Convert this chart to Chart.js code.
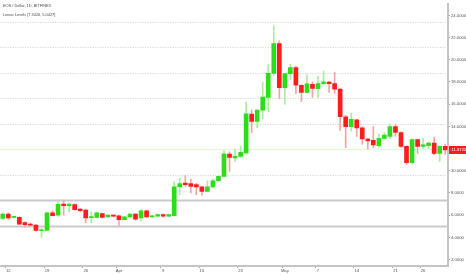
<!DOCTYPE html>
<html><head><meta charset="utf-8">
<script src="https://cdn.jsdelivr.net/npm/chart.js@4.4.1/dist/chart.umd.min.js"></script>
<style>html,body{margin:0;padding:0;background:#fff;overflow:hidden}#wrap{width:466px;height:275px;position:relative}</style>
</head><body><div id="wrap"><canvas id="c" width="466" height="275"></canvas></div>
<script>
const dates = ['2018-03-11','2018-03-12','2018-03-13','2018-03-14','2018-03-15','2018-03-16','2018-03-17','2018-03-18','2018-03-19','2018-03-20',
'2018-03-21','2018-03-22','2018-03-23','2018-03-24','2018-03-25','2018-03-26','2018-03-27','2018-03-28','2018-03-29','2018-03-30','2018-03-31',
'2018-04-01','2018-04-02','2018-04-03','2018-04-04','2018-04-05','2018-04-06','2018-04-07','2018-04-08','2018-04-09','2018-04-10',
'2018-04-11','2018-04-12','2018-04-13','2018-04-14','2018-04-15','2018-04-16','2018-04-17','2018-04-18','2018-04-19','2018-04-20',
'2018-04-21','2018-04-22','2018-04-23','2018-04-24','2018-04-25','2018-04-26','2018-04-27','2018-04-28','2018-04-29','2018-04-30',
'2018-05-01','2018-05-02','2018-05-03','2018-05-04','2018-05-05','2018-05-06','2018-05-07','2018-05-08','2018-05-09','2018-05-10',
'2018-05-11','2018-05-12','2018-05-13','2018-05-14','2018-05-15','2018-05-16','2018-05-17','2018-05-18','2018-05-19','2018-05-20',
'2018-05-21','2018-05-22','2018-05-23','2018-05-24','2018-05-25','2018-05-26','2018-05-27','2018-05-28','2018-05-29','2018-05-30'];

const openP  = [5.70,6.10,5.80,5.80,5.33,5.20,5.10,4.60,4.62,6.20, 6.00,7.00,6.85,6.95,6.55,6.45,5.78,5.80,6.15,5.85, 6.00,5.95,5.60,5.85,6.10,5.75,6.38,5.85,5.90,6.05, 5.90,5.95,8.55,8.90,8.85,8.75,8.55,8.15,8.55,9.10, 9.50,11.50,11.15,11.30,11.60,15.10,14.45,15.47,16.60,18.78, 21.45,17.48,18.76,19.29,17.70,17.07,17.80,17.40,17.85,18.00, 17.86,17.36,14.87,13.98,14.58,13.87,12.86,12.74,12.27,12.92, 13.10,13.98,13.45,12.20,10.73,12.80,12.20,12.27,12.50,11.56, 12.20];
const highP  = [6.20,6.20,5.90,5.85,5.40,5.30,5.15,4.85,6.25,6.40, 7.35,7.35,7.10,7.05,6.60,6.55,6.30,6.30,6.20,6.05, 6.05,6.00,5.90,6.15,6.15,6.50,6.45,6.00,6.10,6.10, 6.10,9.00,9.33,9.60,9.25,8.90,8.60,9.10,9.25,9.60, 11.80,11.70,11.95,12.20,16.20,15.50,15.50,17.96,19.56,23.05, 21.70,18.80,19.60,19.44,17.75,18.67,18.00,18.50,19.00,18.05, 18.84,17.40,15.00,15.17,14.65,13.95,12.95,13.98,13.30,13.45, 14.22,14.20,13.50,12.25,12.85,12.85,12.92,12.60,13.04,12.25, 12.40];
const lowP   = [5.60,5.60,5.75,5.15,4.95,5.05,4.55,4.00,4.60,5.90, 5.90,6.00,6.30,6.45,6.30,5.30,5.30,5.75,5.75,5.80, 5.85,5.10,5.55,5.80,5.55,5.45,5.80,5.80,5.85,5.85, 5.85,5.90,7.85,8.60,8.00,7.85,7.80,8.10,8.50,9.05, 9.45,9.95,10.85,11.20,11.50,13.45,13.87,14.70,15.30,18.60, 16.53,16.00,18.20,16.95,16.24,17.00,16.60,16.60,17.80,17.07, 17.00,13.63,12.09,13.57,13.10,12.40,11.97,12.09,12.10,12.85, 12.90,13.10,12.10,10.55,10.62,11.56,12.00,12.00,11.44,10.84, 11.47];
const closeP = [6.10,5.75,5.85,5.20,5.15,5.10,4.62,4.66,6.20,5.95, 6.98,6.85,7.00,6.50,6.40,5.75,5.83,6.20,5.80,6.00, 5.90,5.60,5.85,6.10,5.65,6.38,5.85,5.95,6.05,5.90, 6.05,8.56,8.85,8.75,8.60,8.55,8.15,8.55,9.10,9.50, 11.53,11.20,11.30,11.67,15.14,14.45,15.47,16.65,18.78,21.45, 17.48,18.76,19.29,17.72,17.07,17.84,17.42,17.85,18.02,17.85, 17.36,14.87,13.98,14.64,13.87,12.86,12.68,12.33,12.92,13.22, 13.98,13.45,12.20,10.73,12.80,12.20,12.33,12.50,11.56,12.20, 11.87];

const tickDates  = ['2018-03-12','2018-03-19','2018-03-26','2018-04-01','2018-04-09','2018-04-16','2018-04-23','2018-05-01','2018-05-07','2018-05-14','2018-05-21','2018-05-26'];
const tickLabels = ['12','19','26','Apr','9','16','23','May','7','14','21','26'];
const yTicks = [2,4,6,8,10,12,14,16,18,20,22,24];
const solidLevels = [7.3426, 5.0427];
const dottedLevels = [9.6425, 14.2423, 16.5422, 18.8421, 21.1420, 23.4419];
const greenLevels = [11.9424];
const lastPrice = 11.8720;
const titleLines = ['EOS / Dollar, 1D, BITFINEX', 'Linear Levels [7.3426, 5.0427]'];

const UP='#2fdc1c', DOWN='#ff1c1c', UPW='#a9ee9f', DOWNW='#f6a3a3';
const isUp = closeP.map((c,i)=>c>=openP[i]);
const FONT = '"Liberation Sans", Arial, sans-serif';

const overlay = {
  id:'overlay',
  beforeDatasetsDraw(chart){
    const {ctx, chartArea:a, scales:{y}} = chart;
    ctx.save();
    const hl = (v,color,w,dash)=>{
      const py = Math.round(y.getPixelForValue(v))+0.5;
      ctx.beginPath(); ctx.setLineDash(dash); ctx.strokeStyle=color; ctx.lineWidth=w;
      ctx.moveTo(a.left,py); ctx.lineTo(a.right,py); ctx.stroke();
    };
    greenLevels.forEach(v=>hl(v,'#e4f7de',1.5,[]));
    dottedLevels.forEach(v=>hl(v,'#d8d8d8',1.2,[1.2,1.3]));
    solidLevels.forEach(v=>hl(v,'#c9c9c9',2,[]));
    ctx.restore();
  },
  afterDraw(chart){
    const {ctx, chartArea:a, scales:{y}} = chart;
    ctx.save();
    ctx.font = '3.9px '+FONT;
    ctx.textBaseline='middle';
    titleLines.forEach((t,i)=>{
      const py = 6 + i*9;
      const w = ctx.measureText(t).width;
      ctx.fillStyle='#ffffff'; ctx.fillRect(1,py-3.5,w+4,7);
      ctx.fillStyle='#4a4a4a'; ctx.fillText(t,3,py);
    });
    const py = y.getPixelForValue(lastPrice);
    ctx.fillStyle='#ff1c1c';
    ctx.fillRect(a.right+1,py-4,466-a.right-1,8);
    ctx.fillStyle='#ffffff';
    ctx.font='4.2px '+FONT;
    ctx.textAlign='left';
    ctx.fillText(lastPrice.toFixed(4),a.right+3.5,py+0.3);
    ctx.restore();
  }
};

new Chart(document.getElementById('c'),{
  type:'bar',
  data:{labels:dates,datasets:[
    {label:'body',data:dates.map((d,i)=>[openP[i],closeP[i]]),backgroundColor:isUp.map(u=>u?UP:DOWN),barThickness:4,grouped:false,order:0,minBarLength:1},
    {label:'wick',data:dates.map((d,i)=>[lowP[i],highP[i]]),backgroundColor:isUp.map(u=>u?UPW:DOWNW),barThickness:1,grouped:false,order:1}
  ]},
  options:{
    responsive:false,animation:false,devicePixelRatio:1,
    layout:{padding:0},
    plugins:{legend:{display:false},tooltip:{enabled:false},title:{display:false}},
    scales:{
      x:{type:'category',offset:true,
        grid:{display:true,drawOnChartArea:false,drawTicks:true,tickLength:2,
          color:(c)=>{const l=dates[c.index];return tickDates.includes(l)?'#a0a0a0':'rgba(0,0,0,0)';}},
        border:{color:'#c4c4c4',width:2},
        ticks:{autoSkip:false,maxRotation:0,minRotation:0,padding:0,color:'#555',font:{size:4.2,family:FONT},
          callback:(v,i)=>{const k=tickDates.indexOf(dates[i]);return k>=0?tickLabels[k]:'';}},
        afterFit:(s)=>{s.height=9;}
      },
      y:{type:'linear',position:'right',min:1.42,max:25.07,
        afterBuildTicks:(s)=>{s.ticks=yTicks.map(v=>({value:v}));},
        grid:{display:true,drawOnChartArea:false,drawTicks:true,tickLength:2,color:'#a0a0a0'},
        border:{color:'#c4c4c4',width:2},
        ticks:{padding:1,color:'#555',font:{size:4.2,family:FONT},callback:(v)=>Number(v).toFixed(4)},
        afterFit:(s)=>{s.width=18;}
      }
    }
  },
  plugins:[overlay]
});
</script></body></html>
